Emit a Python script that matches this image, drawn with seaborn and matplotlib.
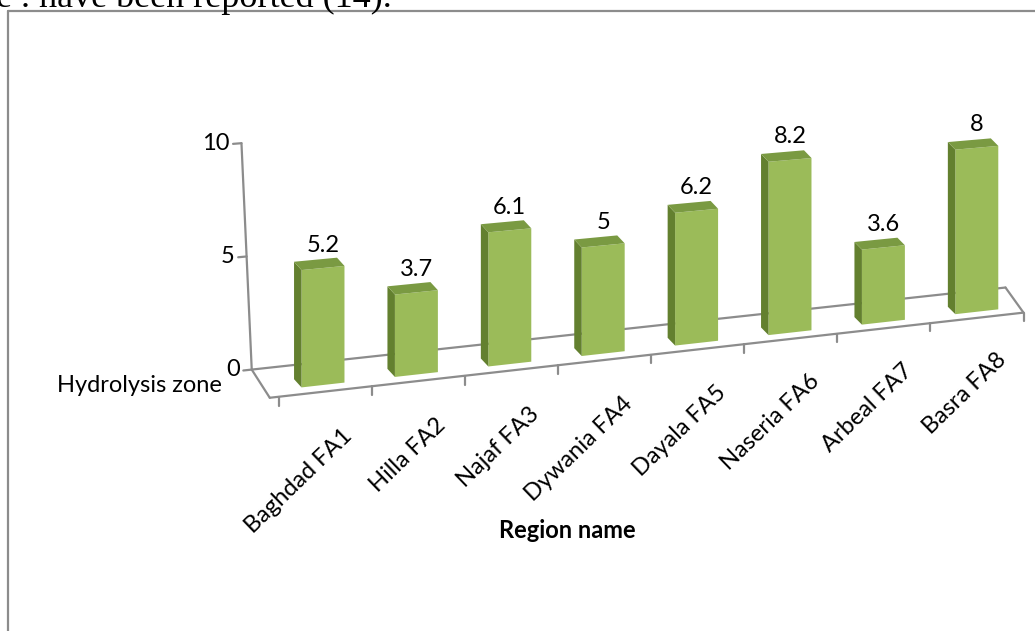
import numpy as np
import pandas as pd
import matplotlib
matplotlib.use("Agg")
import matplotlib.pyplot as plt
import matplotlib.transforms as mtransforms
from matplotlib.patches import Polygon
from matplotlib.lines import Line2D
import seaborn as sns

regions = ["Baghdad FA1", "Hilla FA2", "Najaf FA3", "Dywania FA4",
           "Dayala FA5", "Naseria FA6", "Arbeal FA7", "Basra FA8"]
hydrolysis = [5.2, 3.7, 6.1, 5, 6.2, 8.2, 3.6, 8]
y_ticks = [0, 5, 10]

front_color = "#9BBB59"
side_color = "#63802F"
top_color = "#7A9A42"
axis_color = "#8C8C8C"


class FakePerspective(mtransforms.Transform):
    # floor rises to the right and things shrink a bit with distance,
    # like the excel 3-D column chart
    input_dims = output_dims = 2

    def __init__(self, rise, shrink):
        super().__init__()
        self.rise = rise
        self.shrink = shrink

    def transform_non_affine(self, values):
        values = np.asarray(values, dtype=float)
        x, y = values[:, 0], values[:, 1]
        return np.column_stack([x, y * (1 - self.shrink * x) + self.rise * x])


sns.set_theme(style="white")
plt.rcParams["font.family"] = ["Lato", "DejaVu Sans"]
fs = 17

fig = plt.figure(figsize=(10.35, 6.31), dpi=100)
ax = fig.add_axes([0, 0, 1, 1])

df = pd.DataFrame({"region": regions, "value": hydrolysis})
sns.barplot(data=df, x="region", y="value", color=front_color, saturation=1,
            width=0.46, errorbar=None, linewidth=0, edgecolor="none", ax=ax)

# 93.4 px per category, 22.5 px per unit, first bar centred at x=323, base at y=385
ax.set_xlim(-323 / 93.4, (1035 - 323) / 93.4)
ax.set_ylim(-(631 - 385) / 22.5, 385 / 22.5)
ax.axis("off")

persp = FakePerspective(rise=0.465, shrink=0.0127) + ax.transData

# 3-D look for the bars: dark left side and top
dx, dy = -0.08, 0.4
for p in ax.patches:
    x0, w, h = p.get_x(), p.get_width(), p.get_height()
    p.set_transform(persp)
    p.set_zorder(3)
    side = Polygon([(x0, 0), (x0, h), (x0 + dx, h + dy), (x0 + dx, dy)],
                   closed=True, transform=persp, fc=side_color, ec="none", zorder=3)
    top = Polygon([(x0, h), (x0 + w, h), (x0 + w + dx, h + dy), (x0 + dx, h + dy)],
                  closed=True, transform=persp, fc=top_color, ec="none", zorder=3)
    ax.add_patch(side)
    ax.add_patch(top)
    ax.annotate(f"{h:g}", (x0 + w / 2, h), xycoords=persp, xytext=(0, 23),
                textcoords="offset pixels", ha="center", va="center",
                fontsize=fs, color="black")

# floor outline
n = len(regions)
fl, fr, fy = -0.57, n - 0.5, -0.3
fdx, fdy = -0.193, 1.33
floor_kw = dict(transform=persp, color=axis_color, lw=1.6, zorder=1)
ax.plot([fl, fr], [fy, fy], **floor_kw)
ax.plot([fl + fdx, fr + fdx], [fy + fdy, fy + fdy], **floor_kw)
ax.plot([fl, fl + fdx], [fy, fy + fdy], **floor_kw)
ax.plot([fr, fr + fdx], [fy, fy + fdy], **floor_kw)
for tx in np.linspace(fl + 0.1, fr, n + 1):
    ax.plot([tx, tx], [fy, fy - 0.4], **floor_kw)

# value axis on the back wall
wx, wy = fl + fdx, fy + fdy
lean = -0.11
ax.plot([wx, wx + lean], [wy, wy + y_ticks[-1]], **floor_kw)
for t in y_ticks:
    tx = wx + lean * t / y_ticks[-1]
    ax.plot([tx - 0.09, tx], [wy + t, wy + t], **floor_kw)
    ax.annotate(str(t), (tx, wy + t), xycoords=persp, xytext=(-12, 0),
                textcoords="offset pixels", ha="right", va="center",
                fontsize=fs, color="black")

# category labels under the floor
for i, name in enumerate(regions):
    ax.annotate(name, (i + 0.2, -1.9), xycoords=persp, ha="right", va="top",
                rotation=44, rotation_mode="anchor", fontsize=fs, color="black")

ax.text(222 / 1035, 1 - 386 / 631, "Hydrolysis zone", transform=ax.transAxes,
        ha="right", va="center", fontsize=fs, color="black")
ax.text(567 / 1035, 1 - 531 / 631, "Region name", transform=ax.transAxes,
        ha="center", va="center", fontsize=fs, fontweight="bold", color="black")

# bit of the document page around the chart
fig.text(-0.004, 1 - 7 / 631, "e . have been reported (14).", family="Liberation Serif",
         fontsize=26, va="baseline", color="black")
fig.add_artist(Line2D([8 / 1035, 8 / 1035], [0, 1 - 11 / 631], transform=fig.transFigure,
                      color=axis_color, lw=1.6))
fig.add_artist(Line2D([8 / 1035, 1], [1 - 11 / 631, 1 - 11 / 631], transform=fig.transFigure,
                      color=axis_color, lw=1.6))

fig.savefig("out.png", dpi=100)
